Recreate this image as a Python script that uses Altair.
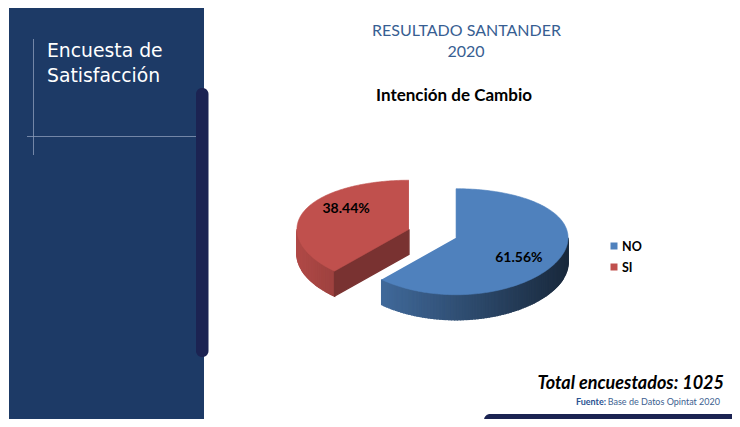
import math
import altair as alt
import pandas as pd

# ---------------- data ----------------
categories = ["NO", "SI"]
shares = [61.56, 38.44]
slice_colors = ["#4F81BD", "#C0504D"]
title_lines = ["RESULTADO SANTANDER", "2020"]
chart_title = "Intención de Cambio"
panel_title = ["Encuesta de", "Satisfacción"]
total_text = "Total encuestados: 1025"
source_bold = "Fuente:"
source_text = "Base de Datos Opintat 2020"

# ---------------- layout ----------------
W, H = 724, 411          # chart size (page minus 8px margins)
OFF = 8                  # page margin
CX, CY = 432.5, 233.5    # pie centre on the page
RX, RY = 112.0, 53.0     # ellipse radii
EXPLODE = 0.225
PERSP = 0.075
THICK = 25.0 / RY


def hex2rgb(h):
    h = h.lstrip("#")
    return tuple(int(h[i:i + 2], 16) for i in (0, 2, 4))


def shade(h, f):
    r, g, b = hex2rgb(h)
    return "#%02x%02x%02x" % tuple(max(0, min(255, int(round(c * f)))) for c in (r, g, b))


def top_pt(du, dv, th):
    t = math.radians(th)
    s = math.sin(t)
    return du + math.cos(t), dv + s * (1 - PERSP * s)


rows_top, rows_wall, labels = [], [], []
cum = 0.0
for i, (cat, val, col) in enumerate(zip(categories, shares, slice_colors)):
    a0 = 90 - cum * 3.6
    a1 = a0 - val * 3.6
    cum += val
    b = math.radians((a0 + a1) / 2)
    du, dv = EXPLODE * math.cos(b), EXPLODE * math.sin(b)
    walls = []
    # outer wall (front half only)
    for k in range(-2, 3):
        lo, hi = -180 + 360 * k, 360 * k
        l, h = max(lo, a1), min(hi, a0)
        if h > l:
            n = max(2, int((h - l) / 1.5))
            for j in range(n):
                ta = l + (h - l) * j / n
                tb = l + (h - l) * (j + 1) / n
                tm = math.radians((ta + tb) / 2)
                f = 0.92 - 0.6 * (math.cos(tm) + 1) / 2
                c = shade(col, f)
                ua, va = top_pt(du, dv, ta)
                ub, vb = top_pt(du, dv, tb)
                pts = [(ua, va), (ub, vb), (ub, vb - THICK), (ua, va - THICK), (ua, va)]
                walls.append((pts, c))
    # cut faces
    for phi, sign in ((a0, -1), (a1, 1)):
        c_phi = math.cos(math.radians(phi))
        if sign * c_phi > 1e-6:
            ue, ve = top_pt(du, dv, phi)
            pts = [(du, dv), (ue, ve), (ue, ve - THICK), (du, dv - THICK), (du, dv)]
            walls.append((pts, shade(col, 0.63)))
    for wi, (pts, c) in enumerate(walls):
        for o, (u, v) in enumerate(pts):
            rows_wall.append({"slice": i, "pid": f"{i}-w{wi:03d}", "ord": o, "u": u, "v": v, "col": c})
    # top face
    rows_top.append({"slice": i, "pid": f"{i}-t", "ord": 0, "u": du, "v": dv, "col": col})
    n = 160
    for j in range(n + 1):
        th = a0 + (a1 - a0) * j / n
        u, v = top_pt(du, dv, th)
        rows_top.append({"slice": i, "pid": f"{i}-t", "ord": j + 1, "u": u, "v": v, "col": col})
    labels.append({"u": du + 0.6 * math.cos(b), "v": dv + 1.05 * math.sin(b), "txt": f"{val:.2f}%"})

df_top = pd.DataFrame(rows_top)
df_wall = pd.DataFrame(rows_wall)
df_lab = pd.DataFrame(labels)

xs = alt.Scale(domain=[(OFF - CX) / RX, (OFF + W - CX) / RX], nice=False, zero=False)
ys = alt.Scale(domain=[(CY - (OFF + H)) / RY, (CY - OFF) / RY], nice=False, zero=False)


def poly(df, sw):
    return alt.Chart(df).mark_line(strokeWidth=sw).encode(
        x=alt.X("u:Q", scale=xs, axis=None),
        y=alt.Y("v:Q", scale=ys, axis=None),
        order=alt.Order("ord:Q"),
        detail="pid:N",
        fill=alt.Fill("col:N", scale=None),
        stroke=alt.Stroke("col:N", scale=None),
    )


pie_layers = []
for i in range(len(categories)):
    pie_layers.append(poly(df_wall[df_wall["slice"] == i], 1.4))
    pie_layers.append(poly(df_top[df_top["slice"] == i], 0.6))

pie_labels = alt.Chart(df_lab).mark_text(
    font="Lato", fontWeight="bold", fontSize=14, color="#000000", baseline="middle", align="center"
).encode(
    x=alt.X("u:Q", scale=xs, axis=None),
    y=alt.Y("v:Q", scale=ys, axis=None),
    text="txt:N",
)

one = pd.DataFrame({"a": [0]})


def P(v):
    return v - OFF


def rect(x1, x2, y1, y2, color, **kw):
    return alt.Chart(one).mark_rect(color=color, **kw).encode(
        x=alt.value(P(x1)), x2=alt.value(P(x2)), y=alt.value(P(y1)), y2=alt.value(P(y2))
    )


def text(s, x, y, **kw):
    return alt.Chart(one).mark_text(text=s, baseline="alphabetic", **kw).encode(
        x=alt.value(P(x)), y=alt.value(P(y))
    )


deco = [
    rect(9, 204, 8, 440, "#1d3a66"),
    rect(33, 34, 39, 155, "#8a9ab8", opacity=0.8),
    rect(27, 196, 136, 137, "#8a9ab8", opacity=0.8),
    rect(196, 208.5, 88, 357, "#1b2352", cornerRadius=6),
    rect(484, 760, 414, 440, "#1b2352", cornerRadius=6),
    text(panel_title[0], 47, 57, font="DejaVu Sans", fontSize=18.8, color="#ffffff", align="left"),
    text(panel_title[1], 47, 82, font="DejaVu Sans", fontSize=18.8, color="#ffffff", align="left"),
    text(title_lines[0], 466.5, 36, font="Lato", fontSize=16, color="#375e92", align="center"),
    text(title_lines[1], 466, 57, font="Lato", fontSize=16, color="#375e92", align="center"),
    text(chart_title, 454, 101, font="Lato", fontSize=17, fontWeight="bold", color="#000000", align="center"),
    text(total_text, 724, 389, font="Lato", fontSize=18, fontWeight="bold", fontStyle="italic",
         color="#000000", align="right"),
    text(source_text, 720, 405, font="Lato", fontSize=9, color="#3d5f91", align="right"),
    text(source_bold, 606, 405, font="Lato", fontSize=9, fontWeight="bold", color="#2a5291", align="right"),
]

legend = []
for k, (cat, col) in enumerate(zip(categories, slice_colors)):
    yc = 246 + 21 * k
    legend.append(alt.Chart(one).mark_square(size=49, color=col, opacity=1).encode(
        x=alt.value(P(614)), y=alt.value(P(yc))))
    legend.append(text(cat, 622, yc + 4.5, font="Lato", fontSize=12.5, fontWeight="bold",
                       color="#000000", align="left"))

chart = alt.layer(*deco, *pie_layers, pie_labels, *legend).properties(
    width=W, height=H, padding=0, autosize=alt.AutoSizeParams(type="none"), background="#ffffff"
).configure_view(stroke=None)

chart.save("out.html", embed_options={"renderer": "svg", "actions": False})
